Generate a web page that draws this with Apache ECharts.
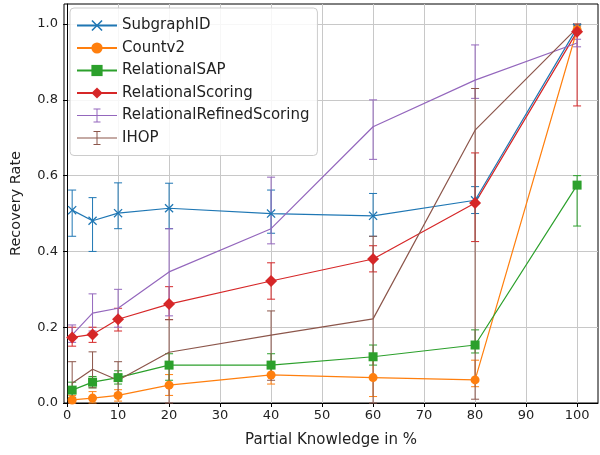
<!DOCTYPE html>
<html><head><meta charset="utf-8">
<script src="https://cdn.jsdelivr.net/npm/echarts@6/dist/echarts.min.js"></script>
<style>html,body{margin:0;padding:0;background:#fff}#c{width:600px;height:455px}</style>
</head><body><div id="c"></div>
<script>
const xs = [1, 5, 10, 20, 40, 60, 80, 100];
const xTicks = [0, 10, 20, 30, 40, 50, 60, 70, 80, 90, 100];
const yTicks = [0, 0.2, 0.4, 0.6, 0.8, 1.0];

const subgraphID     = [0.509, 0.481, 0.501, 0.514, 0.500, 0.494, 0.535, 0.990];
const subgraphIDLow  = [0.440, 0.400, 0.460, 0.460, 0.448, 0.440, 0.500, 0.985];
const subgraphIDHigh = [0.562, 0.542, 0.581, 0.580, 0.562, 0.553, 0.571, 0.995];

const countv2     = [0.008, 0.013, 0.020, 0.047, 0.074, 0.067, 0.061, 0.985];
const countv2Low  = [0.000, 0.000, 0.005, 0.020, 0.050, 0.017, 0.043, 0.975];
const countv2High = [0.020, 0.030, 0.035, 0.075, 0.100, 0.115, 0.113, 0.995];

const relSAP     = [0.034, 0.055, 0.067, 0.100, 0.100, 0.122, 0.153, 0.575];
const relSAPLow  = [0.015, 0.040, 0.050, 0.060, 0.070, 0.100, 0.132, 0.467];
const relSAPHigh = [0.055, 0.070, 0.085, 0.130, 0.130, 0.153, 0.193, 0.600];

const relScoring     = [0.173, 0.181, 0.221, 0.261, 0.322, 0.380, 0.528, 0.980];
const relScoringLow  = [0.150, 0.160, 0.190, 0.220, 0.274, 0.346, 0.426, 0.784];
const relScoringHigh = [0.200, 0.200, 0.250, 0.307, 0.370, 0.415, 0.660, 1.000];

const relRefined     = [0.180, 0.237, 0.250, 0.346, 0.460, 0.729, 0.852, 0.950];
const relRefinedLow  = [0.160, 0.190, 0.200, 0.230, 0.420, 0.643, 0.804, 0.940];
const relRefinedHigh = [0.206, 0.288, 0.300, 0.460, 0.596, 0.800, 0.945, 0.960];

const ihop     = [0.052, 0.089, 0.060, 0.134, 0.179, 0.222, 0.720, 0.990];
const ihopLow  = [0.000, 0.040, 0.020, 0.000, 0.060, 0.000, 0.010, 0.980];
const ihopHigh = [0.109, 0.135, 0.109, 0.220, 0.243, 0.440, 0.830, 1.000];

const FONT = 'DejaVu Sans';
const crossPath = 'path://M1,0 L5,4 L9,0 L10,1 L6,5 L10,9 L9,10 L5,6 L1,10 L0,9 L4,5 L0,1 Z';
// legend handle: horizontal line with an error bar (I shape)
const errIcon = 'path://M0,6.5 L40,6.5 L40,7.5 L0,7.5 Z M19.5,0 L20.5,0 L20.5,14 L19.5,14 Z M16.5,0 L23.5,0 L23.5,1 L16.5,1 Z M16.5,13 L23.5,13 L23.5,14 L16.5,14 Z';

const defs = [
  {name:'SubgraphID', v:subgraphID, lo:subgraphIDLow, hi:subgraphIDHigh, color:'#1f77b4', symbol:crossPath, size:9},
  {name:'Countv2', v:countv2, lo:countv2Low, hi:countv2High, color:'#ff7f0e', symbol:'circle', size:9},
  {name:'RelationalSAP', v:relSAP, lo:relSAPLow, hi:relSAPHigh, color:'#2ca02c', symbol:'rect', size:9},
  {name:'RelationalScoring', v:relScoring, lo:relScoringLow, hi:relScoringHigh, color:'#d62728', symbol:'diamond', size:12},
  {name:'RelationalRefinedScoring', v:relRefined, lo:relRefinedLow, hi:relRefinedHigh, color:'#9467bd', symbol:'none', size:0},
  {name:'IHOP', v:ihop, lo:ihopLow, hi:ihopHigh, color:'#8c564b', symbol:'none', size:0}
];

function errRender(color){
  return function(params, api){
    const x = api.value(0), lo = api.value(1), hi = api.value(2);
    const p1 = api.coord([x, lo]), p2 = api.coord([x, hi]);
    const w = 4;
    const st = {stroke: color, lineWidth: 1};
    return {type:'group', children:[
      {type:'line', shape:{x1:p1[0], y1:p1[1], x2:p2[0], y2:p2[1]}, style:st},
      {type:'line', shape:{x1:p1[0]-w, y1:p1[1], x2:p1[0]+w, y2:p1[1]}, style:st},
      {type:'line', shape:{x1:p2[0]-w, y1:p2[1], x2:p2[0]+w, y2:p2[1]}, style:st}
    ]};
  };
}

const series = [];
defs.forEach(d => {
  series.push({
    name: 'err_' + d.name, type: 'custom', renderItem: errRender(d.color),
    data: xs.map((x, i) => [x, d.lo[i], d.hi[i]]),
    encode: {x: 0, y: [1, 2]}, silent: true, clip: false
  });
  series.push({
    name: d.name, type: 'line', data: xs.map((x, i) => [x, d.v[i]]),
    symbol: d.symbol, symbolSize: d.size, showSymbol: d.symbol !== 'none',
    lineStyle: {color: d.color, width: 1.2},
    itemStyle: {color: d.color, borderWidth: 0},
    animation: false, emphasis: {disabled: true}
  });
});

const chart = echarts.init(document.getElementById('c'), null, {renderer: 'canvas'});
chart.setOption({
  animation: false,
  backgroundColor: '#fff',
  grid: {left: 64, right: 2, top: 4, bottom: 52, show: true, borderColor: '#000', borderWidth: 1, backgroundColor: 'transparent'},
  legend: {
    data: defs.map(d => d.symbol === 'none'
      ? {name: d.name, icon: errIcon, itemStyle: {color: d.color}}
      : {name: d.name}),
    orient: 'vertical', left: 70, top: 8,
    itemWidth: 40, itemHeight: 14, itemGap: 7.5,
    padding: [10, 8, 10, 6],
    backgroundColor: 'rgba(255,255,255,0.85)', borderColor: '#cccccc', borderWidth: 1, borderRadius: 4,
    textStyle: {fontFamily: FONT, fontSize: 15, color: '#222'},
    selectedMode: false
  },
  xAxis: {
    type: 'value', min: -0.6, max: 104.1,
    name: 'Partial Knowledge in %', nameLocation: 'middle', nameGap: 30,
    nameTextStyle: {fontFamily: FONT, fontSize: 15, color: '#222'},
    axisLine: {show: true, lineStyle: {color: '#000', width: 1}},
    axisTick: {show: true, length: 4, lineStyle: {color: '#000'}, customValues: xTicks},
    axisLabel: {fontFamily: FONT, fontSize: 13, color: '#222', margin: 6, customValues: xTicks},
    splitLine: {show: true, lineStyle: {color: '#c8c8c8', width: 1}}
  },
  yAxis: {
    type: 'value', min: 0, max: 1.053,
    name: 'Recovery Rate', nameLocation: 'middle', nameGap: 40,
    nameTextStyle: {fontFamily: FONT, fontSize: 14.5, color: '#222'},
    axisLine: {show: true, lineStyle: {color: '#000', width: 1}},
    axisTick: {show: true, length: 4, lineStyle: {color: '#000'}, customValues: yTicks},
    axisLabel: {fontFamily: FONT, fontSize: 13, color: '#222', margin: 6, customValues: yTicks, formatter: v => v.toFixed(1)},
    splitLine: {show: true, lineStyle: {color: '#c8c8c8', width: 1}}
  },
  series: series
});
</script>
</body></html>
